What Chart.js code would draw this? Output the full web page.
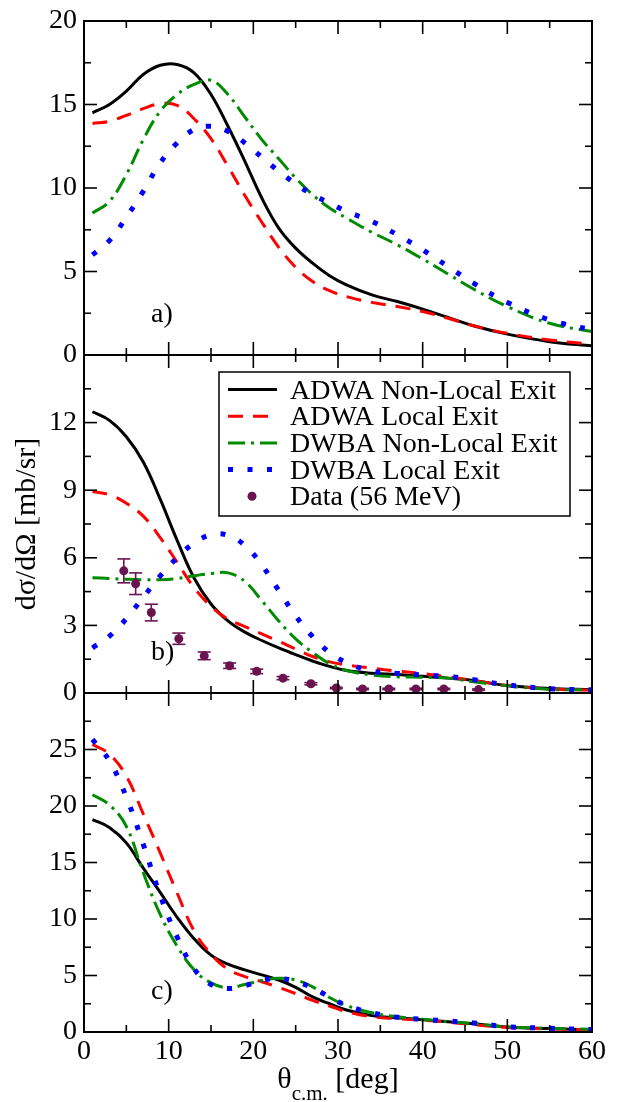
<!DOCTYPE html>
<html>
<head>
<meta charset="utf-8">
<script src="https://cdn.jsdelivr.net/npm/chart.js@4/dist/chart.umd.min.js"></script>
<style>
  html, body { margin: 0; padding: 0; background: #ffffff; }
  #wrap { position: relative; width: 619px; height: 1102px; overflow: hidden; }
  #wrap canvas { position: absolute; left: 0; top: 0; }
  #probe { position: absolute; left: 300px; top: 700px; font-family: "Liberation Serif"; font-size: 28px; color: #ffffff; white-space: nowrap; }
</style>
</head>
<body>
<div id="wrap">
  <div id="probe">ADWA Non-Local Exit Data (56 MeV) 0123456789 θσΩ [deg] a) b) c)</div>
  <canvas id="panelA" width="619" height="1102"></canvas>
  <canvas id="panelB" width="619" height="1102"></canvas>
  <canvas id="panelC" width="619" height="1102"></canvas>
</div>
<script>
// ---------------- DATA ----------------
const seriesLabels = ['ADWA Non-Local Exit', 'ADWA Local Exit', 'DWBA Non-Local Exit', 'DWBA Local Exit', 'Data (56 MeV)'];

// scattering angle grid (deg) used for every curve
const theta = [1, 3, 5, 7, 9, 11, 13, 15, 17, 19, 21, 23, 25, 27, 29, 31, 34, 37, 40, 43, 46, 50, 55, 60];

// panel a)
const aAdwaNonLocal = [14.5, 15.0, 15.8, 16.8, 17.35, 17.4, 16.9, 15.6, 13.7, 11.6, 9.4, 7.6, 6.4, 5.5, 4.75, 4.2, 3.6, 3.2, 2.75, 2.25, 1.75, 1.25, 0.8, 0.55];
const aAdwaLocal    = [13.86, 14.0, 14.35, 14.75, 15.05, 14.95, 14.15, 12.95, 11.3, 9.55, 7.95, 6.45, 5.25, 4.4, 3.85, 3.5, 3.15, 2.9, 2.6, 2.2, 1.75, 1.3, 0.9, 0.65];
const aDwbaNonLocal = [8.5, 9.2, 10.8, 12.9, 14.6, 15.6, 16.2, 16.45, 15.6, 14.25, 12.9, 11.75, 10.6, 9.6, 8.8, 8.2, 7.35, 6.6, 5.75, 4.85, 3.95, 2.9, 1.9, 1.4];
const aDwbaLocal    = [6.0, 6.85, 8.25, 9.8, 11.5, 12.7, 13.5, 13.7, 13.4, 12.7, 11.85, 11.0, 10.25, 9.6, 9.1, 8.6, 8.0, 7.2, 6.3, 5.3, 4.3, 3.15, 2.1, 1.5];

// panel b)
const bAdwaNonLocal = [12.48, 12.1, 11.37, 10.25, 8.6, 6.77, 5.1, 3.95, 3.2, 2.7, 2.33, 2.0, 1.7, 1.42, 1.18, 1.0, 0.88, 0.82, 0.74, 0.66, 0.56, 0.33, 0.2, 0.15];
const bAdwaLocal    = [8.94, 8.8, 8.42, 7.85, 6.9, 5.8, 4.68, 3.85, 3.28, 2.95, 2.62, 2.3, 1.95, 1.62, 1.38, 1.25, 1.1, 0.97, 0.86, 0.72, 0.55, 0.33, 0.18, 0.12];
const bDwbaNonLocal = [5.12, 5.08, 5.05, 5.03, 5.03, 5.08, 5.2, 5.3, 5.33, 4.95, 4.1, 3.2, 2.4, 1.8, 1.3, 1.0, 0.8, 0.72, 0.7, 0.66, 0.5, 0.32, 0.16, 0.14];
const bDwbaLocal    = [2.0, 2.52, 3.3, 4.25, 5.2, 6.0, 6.65, 7.02, 7.0, 6.55, 5.68, 4.55, 3.42, 2.5, 1.8, 1.35, 0.97, 0.87, 0.8, 0.73, 0.59, 0.36, 0.19, 0.14];

// experimental data (panel b)
const dataTheta = [4.7, 6.1, 7.95, 11.2, 14.2, 17.2, 20.4, 23.5, 26.8, 29.8, 32.9, 36.0, 39.2, 42.5, 46.6];
const dataValue = [5.42, 4.85, 3.57, 2.41, 1.65, 1.21, 0.96, 0.66, 0.41, 0.22, 0.18, 0.18, 0.18, 0.18, 0.15];
const dataError = [0.53, 0.48, 0.37, 0.25, 0.17, 0.12, 0.1, 0.07, 0.05, 0.03, 0.03, 0.03, 0.03, 0.03, 0.03];

// panel c)
const cAdwaNonLocal = [18.8, 18.1, 16.74, 14.5, 12.35, 10.15, 8.25, 6.8, 6.0, 5.5, 5.05, 4.6, 3.95, 3.1, 2.5, 1.95, 1.45, 1.25, 1.08, 0.9, 0.72, 0.45, 0.3, 0.2];
const cAdwaLocal    = [25.45, 24.6, 22.64, 19.3, 15.85, 12.3, 8.95, 6.9, 5.55, 4.9, 4.45, 3.95, 3.4, 2.8, 2.3, 1.8, 1.35, 1.18, 1.05, 0.88, 0.65, 0.4, 0.28, 0.2];
const cDwbaNonLocal = [21.0, 20.1, 18.2, 14.1, 10.4, 7.6, 5.5, 4.35, 3.92, 4.2, 4.55, 4.75, 4.6, 4.0, 3.05, 2.35, 1.7, 1.35, 1.12, 0.92, 0.75, 0.45, 0.32, 0.24];
const cDwbaLocal    = [25.9, 24.0, 20.8, 16.6, 12.1, 8.4, 5.6, 4.2, 3.85, 4.1, 4.55, 4.72, 4.47, 3.9, 3.1, 2.35, 1.7, 1.3, 1.12, 0.97, 0.8, 0.47, 0.33, 0.22];

// tick labels
const xTicks  = [0, 10, 20, 30, 40, 50, 60];
const yTicksA = [0, 5, 10, 15, 20];
const yTicksB = [0, 3, 6, 9, 12];
const yTicksC = [0, 5, 10, 15, 20, 25];
const yMaxA = 20, yMaxB = 15, yMaxC = 30;
const panelLabels = ['a)', 'b)', 'c)'];

// ---------------- STYLE / LAYOUT ----------------
const FONT = '"Liberation Serif"';
const PAGE_W = 619, PAGE_H = 1102;
const PLOT_LEFT = 84, PLOT_RIGHT = 592;
const PANEL_TOP = [16, 355, 693];
const PANEL_BOTTOM = [355, 693, 1032];
const X_AXIS_H = 40;

Chart.defaults.font.family = FONT;

const styles = [
  { color: '#000000', width: 3, dash: [], order: 4 },
  { color: '#ff0000', width: 3, dash: [15, 10], order: 3 },
  { color: '#008b00', width: 3, dash: [17, 6, 3, 6], order: 2 },
  { color: '#0000ff', width: 5, dash: [5, 14.5], order: 1 }
];
const DATA_COLOR = '#6a1450';

function lineDataset(idx, values) {
  const s = styles[idx];
  return {
    type: 'line',
    label: seriesLabels[idx],
    data: theta.map((t, i) => ({ x: t, y: values[i] })),
    borderColor: s.color,
    backgroundColor: s.color,
    borderWidth: s.width,
    borderDash: s.dash,
    borderCapStyle: 'butt',
    borderJoinStyle: 'round',
    pointRadius: 0,
    pointHoverRadius: 0,
    fill: false,
    tension: 0.4,
    order: s.order
  };
}

// ---------------- PLUGINS ----------------
function strokeLine(ctx, x1, y1, x2, y2) {
  ctx.beginPath();
  ctx.moveTo(x1, y1);
  ctx.lineTo(x2, y2);
  ctx.stroke();
}

const errorBarPlugin = {
  id: 'errorBars',
  afterDatasetsDraw(chart) {
    const ctx = chart.ctx;
    chart.data.datasets.forEach((ds, i) => {
      if (!ds.errors) return;
      const meta = chart.getDatasetMeta(i);
      const ys = chart.scales[meta.yAxisID];
      ctx.save();
      ctx.strokeStyle = ds.backgroundColor;
      ctx.lineWidth = 1.6;
      meta.data.forEach((pt, j) => {
        const v = ds.data[j].y, e = ds.errors[j];
        const yt = ys.getPixelForValue(v + e);
        const yb = ys.getPixelForValue(v - e);
        strokeLine(ctx, pt.x, yt, pt.x, yb);
        strokeLine(ctx, pt.x - 6.5, yt, pt.x + 6.5, yt);
        strokeLine(ctx, pt.x - 6.5, yb, pt.x + 6.5, yb);
      });
      ctx.restore();
    });
  }
};

const framePlugin = {
  id: 'frame',
  afterDraw(chart, args, opts) {
    const { ctx, chartArea: a } = chart;
    const xs = chart.scales.x, ys = chart.scales.y;
    ctx.save();
    ctx.strokeStyle = '#000';
    ctx.lineWidth = 2;
    ctx.strokeRect(a.left, a.top, a.right - a.left, a.bottom - a.top);
    ctx.lineWidth = 1.6;
    const xStep = xTicks[1] - xTicks[0];
    for (let v = xs.min; v <= xs.max + 1e-9; v += xStep / 2) {
      const major = Math.abs(v / xStep - Math.round(v / xStep)) < 1e-6;
      const len = major ? 13 : 7;
      const px = xs.getPixelForValue(v);
      strokeLine(ctx, px, a.bottom, px, a.bottom - len);
      strokeLine(ctx, px, a.top, px, a.top + len);
    }
    const yt = opts.yTicks;
    const yStep = yt[1] - yt[0];
    for (let v = ys.min; v <= ys.max + 1e-9; v += yStep / 2) {
      const major = Math.abs(v / yStep - Math.round(v / yStep)) < 1e-6;
      const len = major ? 13 : 7;
      const py = ys.getPixelForValue(v);
      strokeLine(ctx, a.left, py, a.left + len, py);
      strokeLine(ctx, a.right, py, a.right - len, py);
    }
    ctx.fillStyle = '#000';
    ctx.font = '28px ' + FONT;
    ctx.textAlign = 'left';
    ctx.textBaseline = 'alphabetic';
    ctx.fillText(opts.label, a.left + 67, a.bottom - 33);
    ctx.restore();
  }
};

const legendPlugin = {
  id: 'insideLegend',
  afterDraw(chart, args, opts) {
    if (!opts.show) return;
    const { ctx, chartArea: a } = chart;
    const bx = a.left + 135, by = a.top + 17, bw = 351, bh = 144;
    ctx.save();
    ctx.fillStyle = '#fff';
    ctx.fillRect(bx, by, bw, bh);
    ctx.strokeStyle = '#000';
    ctx.lineWidth = 1.5;
    ctx.strokeRect(bx, by, bw, bh);
    ctx.font = '28px ' + FONT;
    ctx.textAlign = 'left';
    ctx.textBaseline = 'alphabetic';
    chart.data.datasets.forEach((ds, i) => {
      const ry = by + 17.5 + i * 26.7;
      const x1 = bx + 9, x2 = bx + 58;
      if (ds.type === 'line') {
        ctx.strokeStyle = ds.borderColor;
        ctx.lineWidth = ds.borderWidth;
        ctx.lineCap = 'butt';
        ctx.setLineDash(ds.borderDash || []);
        strokeLine(ctx, x1, ry, x2, ry);
        ctx.setLineDash([]);
      } else {
        ctx.fillStyle = ds.backgroundColor;
        ctx.beginPath();
        ctx.arc(bx + 33, ry, ds.pointRadius, 0, Math.PI * 2);
        ctx.fill();
      }
      ctx.fillStyle = '#000';
      ctx.font = '28px ' + FONT;
      ctx.fillText(ds.label, bx + 71, ry + 9);
    });
    ctx.restore();
  }
};

const xTitlePlugin = {
  id: 'xTitle',
  afterDraw(chart, args, opts) {
    if (!opts.show) return;
    const { ctx, chartArea: a } = chart;
    ctx.save();
    ctx.fillStyle = '#000';
    ctx.textBaseline = 'alphabetic';
    ctx.textAlign = 'left';
    const mainFont = '30px ' + FONT, subFont = '21px ' + FONT;
    ctx.font = mainFont;
    const wT = ctx.measureText('θ').width;
    const wD = ctx.measureText(' [deg]').width;
    ctx.font = subFont;
    const wS = ctx.measureText('c.m.').width;
    const total = wT + wS + wD;
    let x = (a.left + a.right) / 2 - total / 2;
    const base = a.bottom + 56;
    ctx.font = mainFont;
    ctx.fillText('θ', x, base);
    x += wT;
    ctx.font = subFont;
    ctx.fillText('c.m.', x, base + 12);
    x += wS;
    ctx.font = mainFont;
    ctx.fillText(' [deg]', x, base);
    ctx.restore();
  }
};

// ---------------- CHARTS ----------------
function makePanel(canvasId, idx, datasets, yTicks, yMax, showX, yTitle) {
  const tickFont = { family: FONT, size: 28, lineHeight: 1 };
  return new Chart(document.getElementById(canvasId), {
    type: 'line',
    data: { datasets },
    options: {
      responsive: false,
      animation: false,
      devicePixelRatio: 1,
      events: [],
      layout: {
        autoPadding: false,
        padding: {
          left: 0,
          right: PAGE_W - PLOT_RIGHT,
          top: PANEL_TOP[idx],
          bottom: PAGE_H - PANEL_BOTTOM[idx] - (showX ? X_AXIS_H : 0)
        }
      },
      plugins: {
        legend: { display: false },
        tooltip: { enabled: false },
        frame: { yTicks: yTicks, label: panelLabels[idx] },
        insideLegend: { show: idx === 1 },
        xTitle: { show: showX }
      },
      scales: {
        x: {
          type: 'linear',
          min: 0, max: 60,
          display: showX,
          afterBuildTicks: s => { s.ticks = xTicks.map(v => ({ value: v })); },
          afterFit: s => { s.height = showX ? X_AXIS_H : 0; },
          grid: { display: false, drawTicks: false },
          border: { display: false },
          ticks: { font: tickFont, color: '#000', padding: 6, maxRotation: 0, autoSkip: false }
        },
        y: {
          type: 'linear',
          min: 0, max: yMax,
          afterBuildTicks: s => { s.ticks = yTicks.map(v => ({ value: v })); },
          afterFit: s => { s.width = PLOT_LEFT; },
          grid: { display: false, drawTicks: false },
          border: { display: false },
          ticks: { font: tickFont, color: '#000', padding: 7, autoSkip: false },
          title: yTitle ? {
            display: true,
            text: yTitle,
            color: '#000',
            font: { family: FONT, size: 30, lineHeight: 1 },
            padding: { top: 12, bottom: 0 }
          } : { display: false }
        }
      }
    },
    plugins: [errorBarPlugin, framePlugin, legendPlugin, xTitlePlugin]
  });
}

const charts = [];
function build() {
  charts.push(makePanel('panelA', 0, [
    lineDataset(0, aAdwaNonLocal),
    lineDataset(1, aAdwaLocal),
    lineDataset(2, aDwbaNonLocal),
    lineDataset(3, aDwbaLocal)
  ], yTicksA, yMaxA, false, null));

  charts.push(makePanel('panelB', 1, [
    lineDataset(0, bAdwaNonLocal),
    lineDataset(1, bAdwaLocal),
    lineDataset(2, bDwbaNonLocal),
    lineDataset(3, bDwbaLocal),
    {
      type: 'scatter',
      label: seriesLabels[4],
      data: dataTheta.map((t, i) => ({ x: t, y: dataValue[i] })),
      errors: dataError,
      backgroundColor: DATA_COLOR,
      borderColor: DATA_COLOR,
      borderWidth: 0,
      pointRadius: 4.5,
      pointHoverRadius: 4.5,
      showLine: false,
      order: 0
    }
  ], yTicksB, yMaxB, false, 'dσ/dΩ [mb/sr]'));

  charts.push(makePanel('panelC', 2, [
    lineDataset(0, cAdwaNonLocal),
    lineDataset(1, cAdwaLocal),
    lineDataset(2, cDwbaNonLocal),
    lineDataset(3, cDwbaLocal)
  ], yTicksC, yMaxC, true, null));
}

// force layout of the probe text so the serif face is resolved before drawing
void document.getElementById('probe').offsetWidth;
build();
function redraw() { charts.forEach(c => { c.update('none'); }); }
window.addEventListener('load', redraw);
setTimeout(redraw, 300);
setTimeout(redraw, 1200);
</script>
</body>
</html>
